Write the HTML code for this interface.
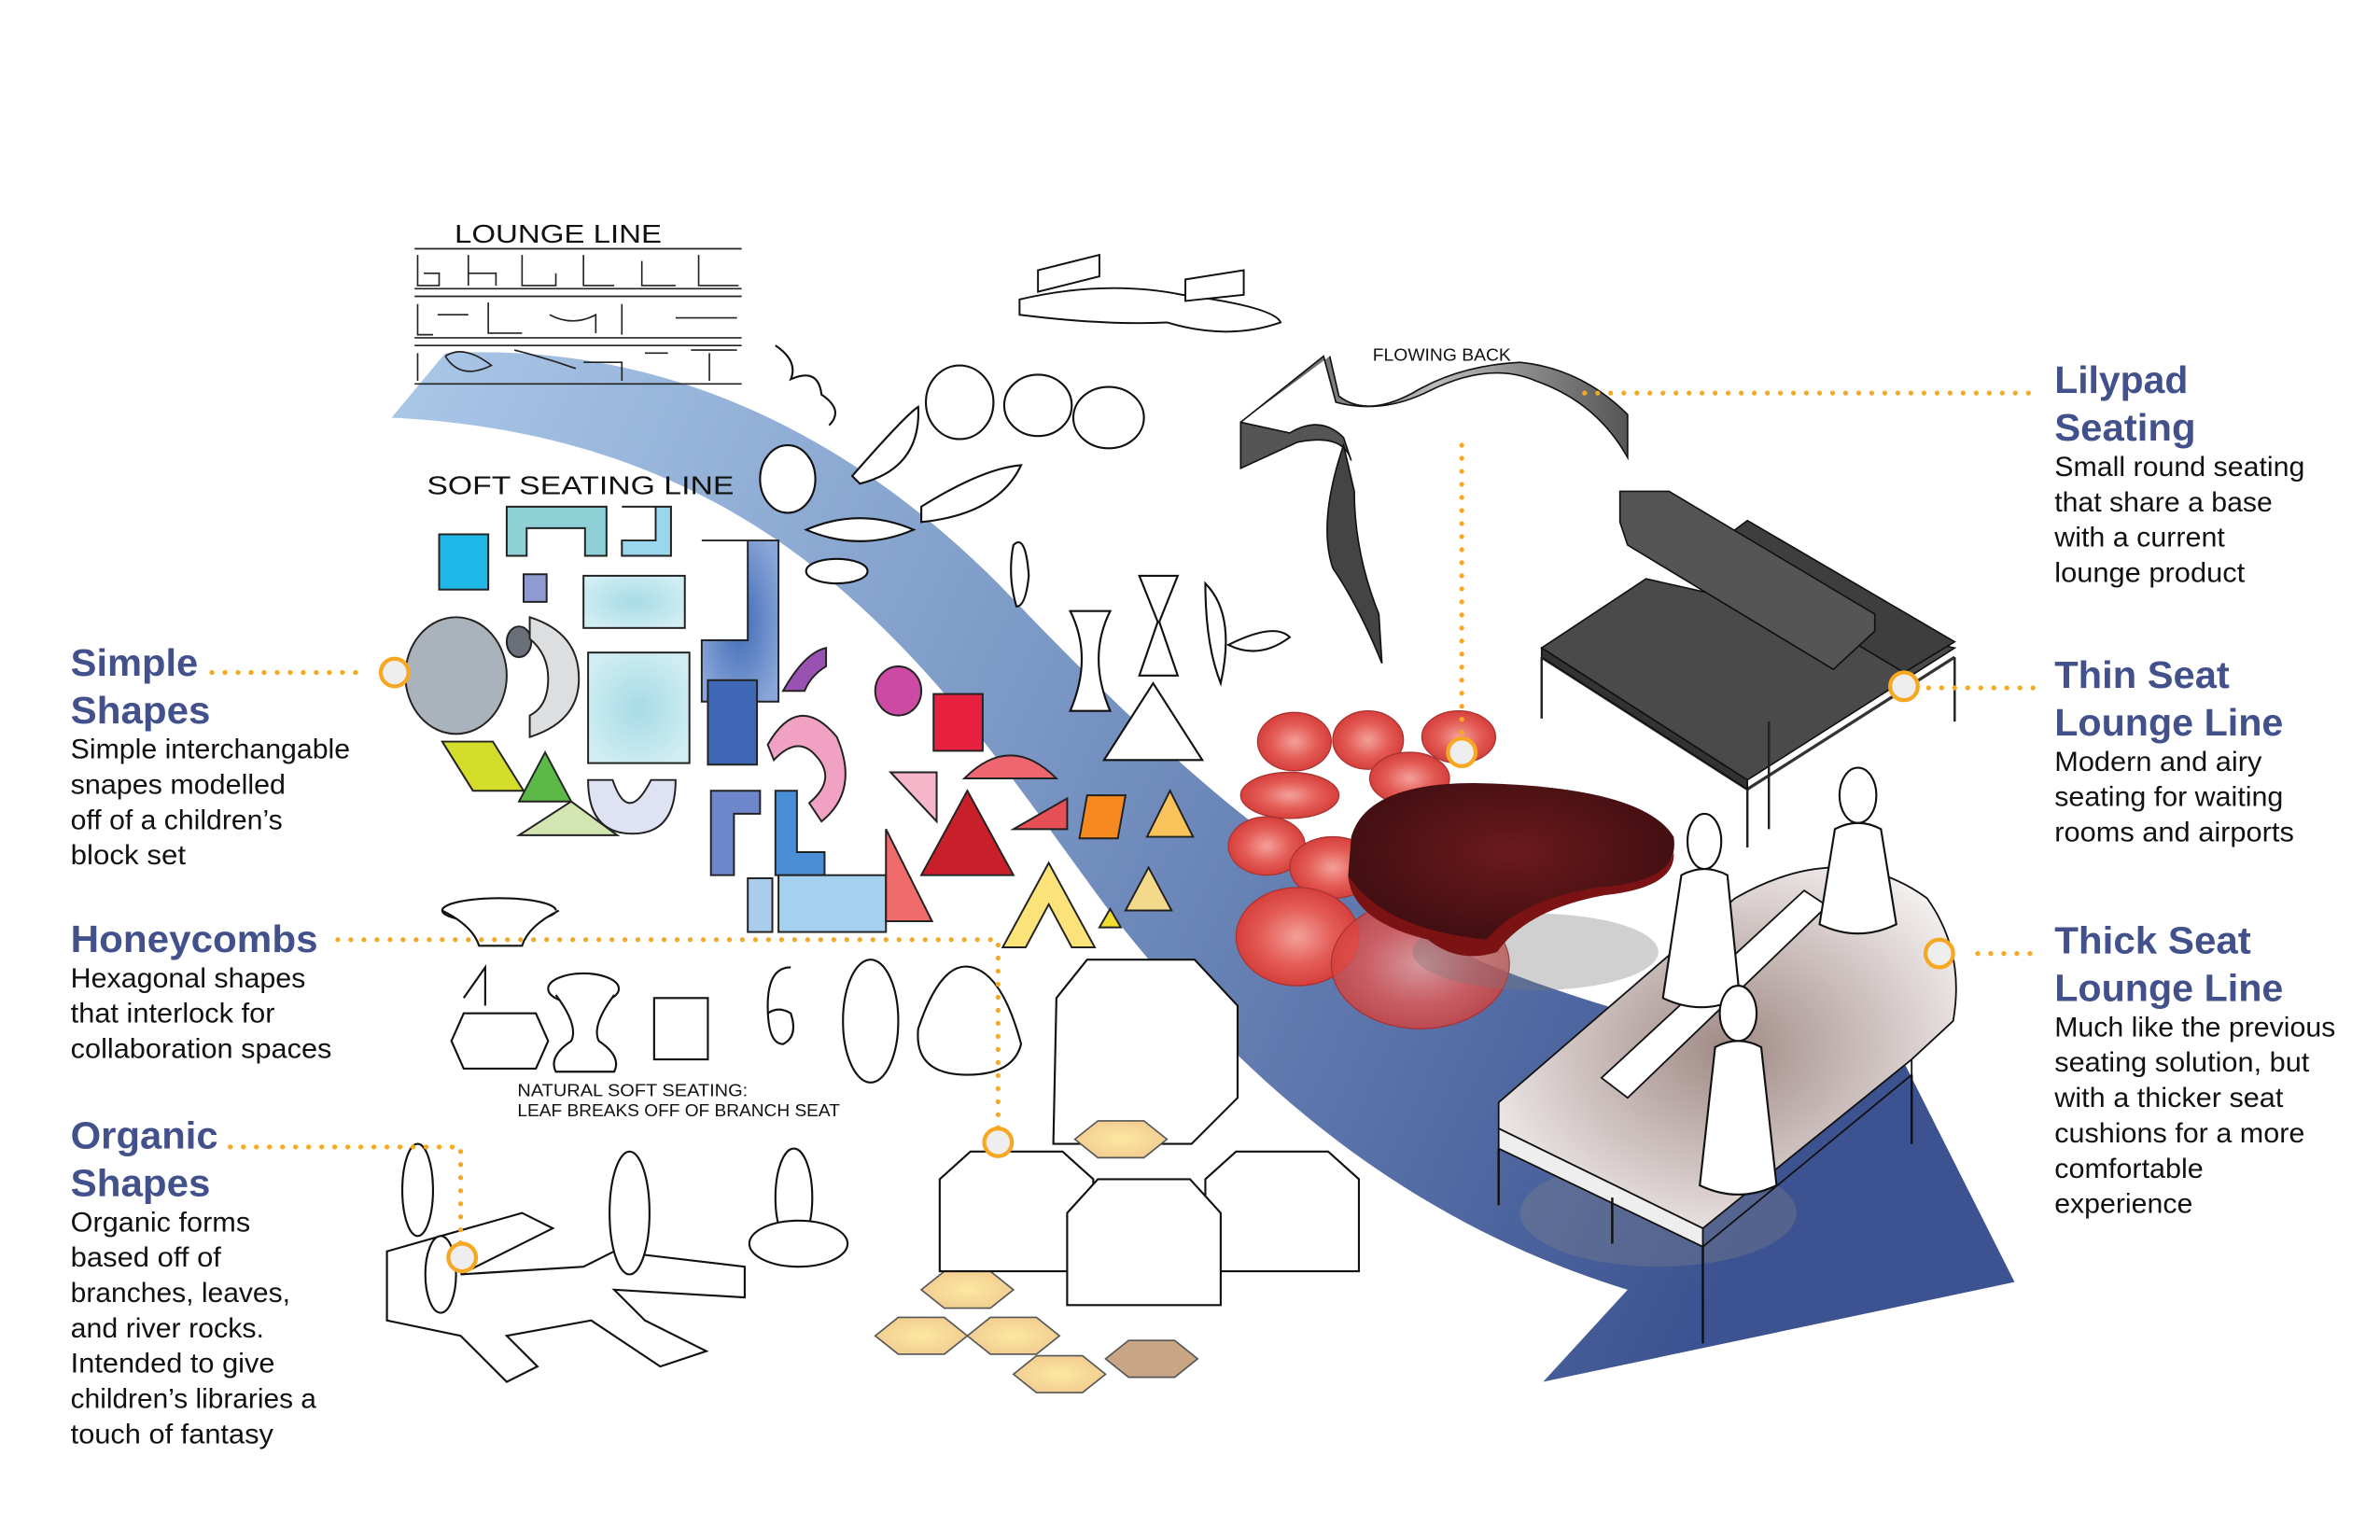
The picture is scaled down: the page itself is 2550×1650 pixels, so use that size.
<!DOCTYPE html>
<html><head><meta charset="utf-8">
<style>
html,body{margin:0;padding:0;background:#fff;}
svg{display:block;}
.h{font-family:"Liberation Sans",Arial,sans-serif;font-weight:bold;fill:#42518b;font-size:25px;}
.b{font-family:"Liberation Sans",Arial,sans-serif;fill:#111;font-size:18px;}
.sk{font-family:"Liberation Sans Narrow","Liberation Sans",sans-serif;fill:#111;}
.dot{stroke:#f7a823;stroke-width:3.2;stroke-dasharray:0 8.5;stroke-linecap:round;fill:none;}
.ring{fill:#eee;stroke:#f7a823;stroke-width:2.6;}
.o{fill:#fff;stroke:#111;stroke-width:1.3;}
</style></head>
<body>
<svg width="2550" height="1650" viewBox="0 0 1550 1003" preserveAspectRatio="none" xmlns="http://www.w3.org/2000/svg">
<defs>
<linearGradient id="band" x1="0" y1="0" x2="1" y2="0.3">
<stop offset="0" stop-color="#abc8e8"/><stop offset="0.45" stop-color="#7b98c6"/><stop offset="1" stop-color="#3d5391"/>
</linearGradient>
<radialGradient id="red" cx="0.5" cy="0.5" r="0.5"><stop offset="0" stop-color="#f4a09a"/><stop offset="0.6" stop-color="#e45b55"/><stop offset="1" stop-color="#d6403c"/></radialGradient>
<radialGradient id="wine" cx="0.5" cy="0.4" r="0.6"><stop offset="0" stop-color="#6b1a1c"/><stop offset="1" stop-color="#3c0d10"/></radialGradient>
<radialGradient id="sofa" cx="0.5" cy="0.5" r="0.6"><stop offset="0" stop-color="#a08a86"/><stop offset="1" stop-color="#f4f0f0"/></radialGradient>
<radialGradient id="hex" cx="0.5" cy="0.5" r="0.6"><stop offset="0" stop-color="#fbe9a0"/><stop offset="1" stop-color="#f1c98f"/></radialGradient>
<radialGradient id="cyan" cx="0.5" cy="0.5" r="0.6"><stop offset="0" stop-color="#a6dbe6"/><stop offset="1" stop-color="#d2eef3"/></radialGradient>
<radialGradient id="blue" cx="0.5" cy="0.5" r="0.6"><stop offset="0" stop-color="#3f6cb7"/><stop offset="1" stop-color="#8ba6d8"/></radialGradient>
<linearGradient id="metal" x1="0" y1="0" x2="1" y2="0"><stop offset="0" stop-color="#444"/><stop offset="0.5" stop-color="#bbb"/><stop offset="1" stop-color="#555"/></linearGradient>
</defs>

<path fill="url(#band)"
 d="M290,230 C440,222 560,290 650,380 C760,495 860,590 1000,640 C1100,675 1180,690 1240,692 L1312,835 L1005,900 L1060,840 C930,800 820,720 720,590 C620,455 520,285 255,272 Z"/>

<g>
<text class="sk" x="296" y="158" font-size="17" textLength="135" lengthAdjust="spacingAndGlyphs">LOUNGE LINE</text>
<g fill="none" stroke="#222" stroke-width="1">
<line x1="270" y1="162" x2="483" y2="162"/><line x1="270" y1="188" x2="483" y2="188"/>
<line x1="270" y1="193" x2="483" y2="193"/><line x1="270" y1="220" x2="483" y2="220"/>
<line x1="270" y1="225" x2="483" y2="225"/><line x1="270" y1="250" x2="483" y2="250"/>
<path d="M272,166v20h14v-8h-10M305,166v20M305,178h18v8M340,166v20h22v-8M380,166v20h20M418,170v16h22M455,166v20h26"/>
<path d="M272,198v20h10M285,205h20M318,197v20h22M358,205q15,8 30,0v12M405,198v20M440,207h40"/>
<path d="M272,230v18M290,232q12,-8 30,6q-20,10 -30,-6M335,228q20,5 40,12M380,236h25v12M420,230h15M450,228h30M462,230v18"/>
</g>
</g>

<g fill="#fff" stroke="#111" stroke-width="1.2">
<path d="M676,176 L716,166 L716,180 L676,190Z"/>
<path d="M664,195 Q720,182 770,192 Q830,200 834,210 Q800,222 760,210 Q720,212 664,205Z"/>
<path d="M772,182 L810,176 L810,192 L772,196Z"/>
</g>

<g>
<text class="sk" x="894" y="235" font-size="11" textLength="90" lengthAdjust="spacingAndGlyphs">FLOWING BACK</text>
<path d="M808,275 L862,232 L870,262 Q900,270 930,255 Q970,235 1000,248 Q1040,262 1060,298 L1060,270 Q1030,240 990,236 Q950,238 920,256 Q890,272 872,258 L866,232" fill="url(#metal)" stroke="#111"/>
<path d="M808,275 L808,305 L845,288 Q875,282 880,300 L875,285 Q860,270 840,282 Z" fill="#555" stroke="#111"/>
<path d="M875,290 Q858,340 868,370 Q885,395 900,432 L898,400 Q882,360 882,320 Z" fill="#444" stroke="#111"/>
</g>

<g>
<text class="sk" x="278" y="322" font-size="17" textLength="200" lengthAdjust="spacingAndGlyphs">SOFT SEATING LINE</text>
<g class="o">
<ellipse cx="625" cy="262" rx="22" ry="24"/><ellipse cx="676" cy="264" rx="22" ry="20"/><ellipse cx="722" cy="272" rx="23" ry="20"/>
<ellipse cx="513" cy="312" rx="18" ry="22"/><path d="M555,310 Q590,270 598,265 Q600,305 560,315Z"/>
<path d="M600,330 Q640,305 665,303 Q650,335 600,340Z"/><path d="M525,345 Q560,330 595,345 Q560,360 525,345Z"/>
<ellipse cx="545" cy="372" rx="20" ry="8"/><path d="M505,225 q15,10 10,22 q18,-8 20,10 q15,10 5,20"/>
<path d="M660,355 q8,-8 10,20 q-2,20 -8,20 q-6,-20 -2,-40Z"/>
</g>
</g>

<g stroke="#222" stroke-width="1.2">
<rect x="286" y="348" width="32" height="36" fill="#1fb8e8"/>
<rect x="341" y="374" width="15" height="18" fill="#8f9bd0"/>
<path d="M330,330 h65 v32 h-14 v-18 h-38 v18 h-13Z" fill="#8fcfd6"/>
<path d="M405,330 h32 v32 h-32 v-10 h22 v-22 h-22Z" fill="#9ad6ec"/>
<rect x="380" y="375" width="66" height="34" fill="url(#cyan)"/>
<path d="M457,352 h50 v105 h-50 v-40 h30 v-65Z" fill="url(#blue)"/>
<ellipse cx="297" cy="440" rx="33" ry="38" fill="#aab2bc"/>
<ellipse cx="338" cy="418" rx="8" ry="10" fill="#6a6f78"/>
<path d="M345,402 q32,10 32,40 q0,28 -32,38 v-14 q12,-6 12,-24 q0,-16 -12,-26Z" fill="#dcdedf"/>
<rect x="383" y="425" width="66" height="72" fill="url(#cyan)"/>
<rect x="461" y="443" width="32" height="55" fill="#3e68b5"/>
<path d="M288,483 h33 l20,32 h-33Z" fill="#d4de2a"/>
<path d="M355,490 l17,32 h-34Z" fill="#5cb947"/>
<path d="M372,522 l30,22 h-64Z" fill="#d3e6b2"/>
<path d="M383,508 h16 q10,30 25,0 h16 q0,35 -28,35 q-29,0 -29,-35Z" fill="#dfe2f3"/>
<path d="M463,515 h32 v15 h-17 v40 h-15Z" fill="#6e86cc"/>
<path d="M505,515 h14 v40 h18 v15 h-32Z" fill="#4a8fd6"/>
<rect x="487" y="572" width="16" height="35" fill="#a9cdeb"/><rect x="507" y="570" width="70" height="37" fill="#a6d0f0"/>
<path d="M510,450 q14,-25 28,-28 v12 q-10,6 -14,16Z" fill="#9a52b2"/>
<ellipse cx="585" cy="450" rx="15" ry="16" fill="#cc4aa4"/>
<path d="M500,485 q20,-35 45,-5 q15,35 -10,55 l-8,-12 q18,-15 5,-30 q-12,-15 -28,2Z" fill="#f1a2c2"/>
<rect x="608" y="452" width="32" height="37" fill="#e8203f"/>
<path d="M580,503 h30 v32Z" fill="#f6b7cb"/>
<path d="M628,507 q30,-30 60,0Z" fill="#ee6670"/>
<path d="M630,515 l30,55 h-60Z" fill="#c81f2a"/>
<path d="M660,540 l35,-20 v20Z" fill="#e64f53"/>
<path d="M708,518 h25 l-5,28 h-25Z" fill="#f68a20"/>
<path d="M762,515 l15,30 h-30Z" fill="#f8c35a"/>
<path d="M577,540 l30,60 h-30Z" fill="#ef6c6a"/>
<path d="M683,562 l-30,55 h15 l15,-28 l15,28 h15Z" fill="#fbe37a"/>
<path d="M748,565 l15,28 h-30Z" fill="#f3d98a"/>
<path d="M723,592 l7,12 h-14Z" fill="#f2de32"/>
</g>

<g class="o">
<ellipse cx="325" cy="593" rx="37" ry="8"/><path d="M288,593 q20,10 24,23 h28 q4,-13 24,-23"/>
<path d="M302,660 h47 l8,18 l-8,18 h-47 l-8,-18Z"/><path d="M302,650 l14,-20 v25"/>
<ellipse cx="380" cy="644" rx="23" ry="10"/><path d="M362,648 q15,20 10,30 q-15,10 -10,20 h38 q5,-10 -10,-20 q-5,-10 10,-30"/>
<path d="M426,650 h35 v40 h-35Z"/><path d="M500,655 q0,-25 15,-25 M500,655 q0,25 10,25 q10,-5 5,-20 q-8,-5 -15,0"/>
<ellipse cx="567" cy="665" rx="18" ry="40"/>
<path d="M598,670 q15,-45 35,-40 q20,5 32,50 q-5,20 -35,20 q-35,0 -32,-30Z"/>
<path d="M688,650 l20,-25 h70 l28,30 v60 l-30,30 h-90 Z"/>
</g>
<text class="sk" x="337" y="714" font-size="11" textLength="150" lengthAdjust="spacingAndGlyphs">NATURAL SOFT SEATING:</text>
<text class="sk" x="337" y="727" font-size="11" textLength="210" lengthAdjust="spacingAndGlyphs">LEAF BREAKS OFF OF BRANCH SEAT</text>

<g class="o">
<path d="M252,815 L340,790 L360,800 L300,830 L380,825 L400,815 L485,825 L485,845 L400,840 L420,860 L460,880 L430,890 L385,860 L330,870 L350,890 L330,900 L300,870 L252,860Z"/>
<ellipse cx="272" cy="775" rx="10" ry="30"/><ellipse cx="410" cy="790" rx="13" ry="40"/>
<ellipse cx="517" cy="780" rx="12" ry="32"/><ellipse cx="520" cy="810" rx="32" ry="15"/>
<ellipse cx="287" cy="830" rx="10" ry="25"/>
</g>

<g class="o">
<path d="M742,375 h25 l-12,30 l12,35 h-25 l12,-35Z"/><path d="M735,470 l16,-25 l16,25 l16,25 h-64Z"/>
<path d="M697,398 h26 q-15,30 0,65 h-26 q15,-35 0,-65Z"/>
<path d="M785,380 q20,20 10,65 q-10,-25 -10,-65Z M800,420 q30,-15 40,-5 q-20,15 -40,5Z"/>
</g>

<g stroke="#a33" stroke-width="0.8" fill="url(#red)">
<ellipse cx="843" cy="483" rx="24" ry="19"/><ellipse cx="891" cy="482" rx="23" ry="19"/>
<ellipse cx="950" cy="480" rx="24" ry="17"/><ellipse cx="918" cy="507" rx="26" ry="17"/>
<ellipse cx="840" cy="518" rx="32" ry="15"/><ellipse cx="825" cy="551" rx="25" ry="19"/>
<ellipse cx="868" cy="565" rx="28" ry="20"/><ellipse cx="845" cy="610" rx="40" ry="32"/>
<ellipse cx="925" cy="628" rx="58" ry="42" fill-opacity="0.8"/>
</g>

<g>
<ellipse cx="1000" cy="620" rx="80" ry="25" fill="#777" opacity="0.35"/>
<path d="M880,545 Q890,510 960,510 Q1070,512 1090,545 Q1095,575 1040,580 Q990,590 970,620 Q950,625 930,610 Q880,600 878,570Z" fill="url(#wine)"/>
<path d="M878,570 Q880,600 930,612 Q950,628 975,620 Q995,592 1045,583 Q1092,578 1090,555 Q1085,575 1040,578 Q990,586 968,612 Q900,605 878,570Z" fill="#7b1214"/>
</g>

<g stroke="#111" stroke-width="1">
<path d="M1004,428 L1138,514 L1273,428" fill="none" stroke="#333" stroke-width="2"/>
<path d="M1004,422 L1072,377 L1273,422 L1138,508 Z" fill="#4a4a4a"/>
<path d="M1004,422 L1138,508 L1138,514 L1004,428Z" fill="#333"/>
<path d="M1138,339 L1273,418 L1240,438 L1110,360 Z" fill="#3e3e3e"/>
<path d="M1055,320 L1087,320 L1221,400 L1221,411 L1194,436 L1060,355 L1055,340Z" fill="#555"/>
<g stroke="#222" stroke-width="1.5" fill="none"><line x1="1004" y1="428" x2="1004" y2="468"/><line x1="1138" y1="514" x2="1138" y2="552"/><line x1="1273" y1="428" x2="1273" y2="470"/><line x1="1152" y1="470" x2="1152" y2="540"/></g>
</g>

<g stroke="#111" stroke-width="1.1">
<ellipse cx="1080" cy="790" rx="90" ry="35" fill="#888" opacity="0.3" stroke="none"/>
<path d="M976,718 L1130,585 Q1200,545 1255,585 Q1280,620 1272,665 L1245,690 L1109,800 L976,735Z" fill="url(#sofa)"/>
<path d="M976,735 L1109,800 L1109,812 L976,748Z" fill="#eee"/>
<path d="M1109,812 L1245,700 L1245,690" fill="none"/>
<path d="M976,748 V785 M1109,812 V875 M1245,700 V745 M1050,780 V810" fill="none" stroke-width="1.5"/>
<path d="M1043,702 L1175,580 L1190,590 L1060,715Z" fill="#fff"/>
<g class="o"><ellipse cx="1110" cy="548" rx="11" ry="18"/><path d="M1095,570 q15,-8 30,0 l8,80 q-25,12 -50,0Z"/>
<ellipse cx="1210" cy="518" rx="12" ry="18"/><path d="M1195,540 q15,-8 30,0 l10,62 q-25,12 -50,0Z"/>
<ellipse cx="1132" cy="660" rx="12" ry="18"/><path d="M1117,682 q15,-8 30,0 l10,90 q-25,12 -50,0Z"/></g>
</g>

<g>
<g fill="url(#hex)" stroke="#555" stroke-width="1">
<path d="M600,840 l15,-12 h30 l15,12 l-15,12 h-30Z"/><path d="M570,870 l15,-12 h30 l15,12 l-15,12 h-30Z"/>
<path d="M630,870 l15,-12 h30 l15,12 l-15,12 h-30Z"/><path d="M660,895 l15,-12 h30 l15,12 l-15,12 h-30Z"/>
<path d="M720,885 l15,-12 h30 l15,12 l-15,12 h-30Z" fill="#c8a685"/><path d="M700,742 l15,-12 h30 l15,12 l-15,12 h-30Z"/>
</g>
<g class="o">
<path d="M612,768 l20,-18 h60 l20,18 v60 h-100Z"/>
<path d="M785,768 l20,-18 h60 l20,18 v60 h-100Z"/>
<path d="M695,790 l20,-22 h60 l20,22 v60 h-100Z"/>
</g>
</g>

<g>
<path class="dot" d="M138,438 H236"/><circle class="ring" cx="257" cy="438" r="9"/>
<path class="dot" d="M220,612 H650 V735"/><circle class="ring" cx="650" cy="744" r="9"/>
<path class="dot" d="M150,747 H300 V810"/><circle class="ring" cx="301" cy="819" r="9"/>
<path class="dot" d="M1032,256 H1325 M952,290 V478"/><circle class="ring" cx="952" cy="490" r="9"/>
<circle class="ring" cx="1240" cy="447" r="9"/><path class="dot" d="M1256,448 H1325"/>
<circle class="ring" cx="1263" cy="621" r="9"/><path class="dot" d="M1288,621 H1325"/>
</g>

<g>
<text class="h" x="46" y="440" textLength="83" lengthAdjust="spacingAndGlyphs">Simple</text>
<text class="h" x="46" y="471" textLength="91" lengthAdjust="spacingAndGlyphs">Shapes</text>
<text class="b" x="46" y="494" textLength="182" lengthAdjust="spacingAndGlyphs">Simple interchangable</text>
<text class="b" x="46" y="517" textLength="140" lengthAdjust="spacingAndGlyphs">snapes modelled</text>
<text class="b" x="46" y="540" textLength="138" lengthAdjust="spacingAndGlyphs">off of a children’s</text>
<text class="b" x="46" y="563" textLength="75" lengthAdjust="spacingAndGlyphs">block set</text>
</g>
<g>
<text class="h" x="46" y="620" textLength="161" lengthAdjust="spacingAndGlyphs">Honeycombs</text>
<text class="b" x="46" y="643" textLength="153" lengthAdjust="spacingAndGlyphs">Hexagonal shapes</text>
<text class="b" x="46" y="666" textLength="133" lengthAdjust="spacingAndGlyphs">that interlock for</text>
<text class="b" x="46" y="689" textLength="170" lengthAdjust="spacingAndGlyphs">collaboration spaces</text>
</g>
<g>
<text class="h" x="46" y="748" textLength="96" lengthAdjust="spacingAndGlyphs">Organic</text>
<text class="h" x="46" y="779" textLength="91" lengthAdjust="spacingAndGlyphs">Shapes</text>
<text class="b" x="46" y="802" textLength="117" lengthAdjust="spacingAndGlyphs">Organic forms</text>
<text class="b" x="46" y="825" textLength="98" lengthAdjust="spacingAndGlyphs">based off of</text>
<text class="b" x="46" y="848" textLength="143" lengthAdjust="spacingAndGlyphs">branches, leaves,</text>
<text class="b" x="46" y="871" textLength="126" lengthAdjust="spacingAndGlyphs">and river rocks.</text>
<text class="b" x="46" y="894" textLength="133" lengthAdjust="spacingAndGlyphs">Intended to give</text>
<text class="b" x="46" y="917" textLength="160" lengthAdjust="spacingAndGlyphs">children’s libraries a</text>
<text class="b" x="46" y="940" textLength="132" lengthAdjust="spacingAndGlyphs">touch of fantasy</text>
</g>

<g>
<text class="h" x="1338" y="256" textLength="87" lengthAdjust="spacingAndGlyphs">Lilypad</text>
<text class="h" x="1338" y="287" textLength="92" lengthAdjust="spacingAndGlyphs">Seating</text>
<text class="b" x="1338" y="310" textLength="163" lengthAdjust="spacingAndGlyphs">Small round seating</text>
<text class="b" x="1338" y="333" textLength="142" lengthAdjust="spacingAndGlyphs">that share a base</text>
<text class="b" x="1338" y="356" textLength="111" lengthAdjust="spacingAndGlyphs">with a current</text>
<text class="b" x="1338" y="379" textLength="124" lengthAdjust="spacingAndGlyphs">lounge product</text>
</g>
<g>
<text class="h" x="1338" y="448" textLength="114" lengthAdjust="spacingAndGlyphs">Thin Seat</text>
<text class="h" x="1338" y="479" textLength="149" lengthAdjust="spacingAndGlyphs">Lounge Line</text>
<text class="b" x="1338" y="502" textLength="135" lengthAdjust="spacingAndGlyphs">Modern and airy</text>
<text class="b" x="1338" y="525" textLength="149" lengthAdjust="spacingAndGlyphs">seating for waiting</text>
<text class="b" x="1338" y="548" textLength="156" lengthAdjust="spacingAndGlyphs">rooms and airports</text>
</g>
<g>
<text class="h" x="1338" y="621" textLength="128" lengthAdjust="spacingAndGlyphs">Thick Seat</text>
<text class="h" x="1338" y="652" textLength="149" lengthAdjust="spacingAndGlyphs">Lounge Line</text>
<text class="b" x="1338" y="675" textLength="183" lengthAdjust="spacingAndGlyphs">Much like the previous</text>
<text class="b" x="1338" y="698" textLength="166" lengthAdjust="spacingAndGlyphs">seating solution, but</text>
<text class="b" x="1338" y="721" textLength="149" lengthAdjust="spacingAndGlyphs">with a thicker seat</text>
<text class="b" x="1338" y="744" textLength="163" lengthAdjust="spacingAndGlyphs">cushions for a more</text>
<text class="b" x="1338" y="767" textLength="97" lengthAdjust="spacingAndGlyphs">comfortable</text>
<text class="b" x="1338" y="790" textLength="90" lengthAdjust="spacingAndGlyphs">experience</text>
</g>
</svg>
</body></html>
